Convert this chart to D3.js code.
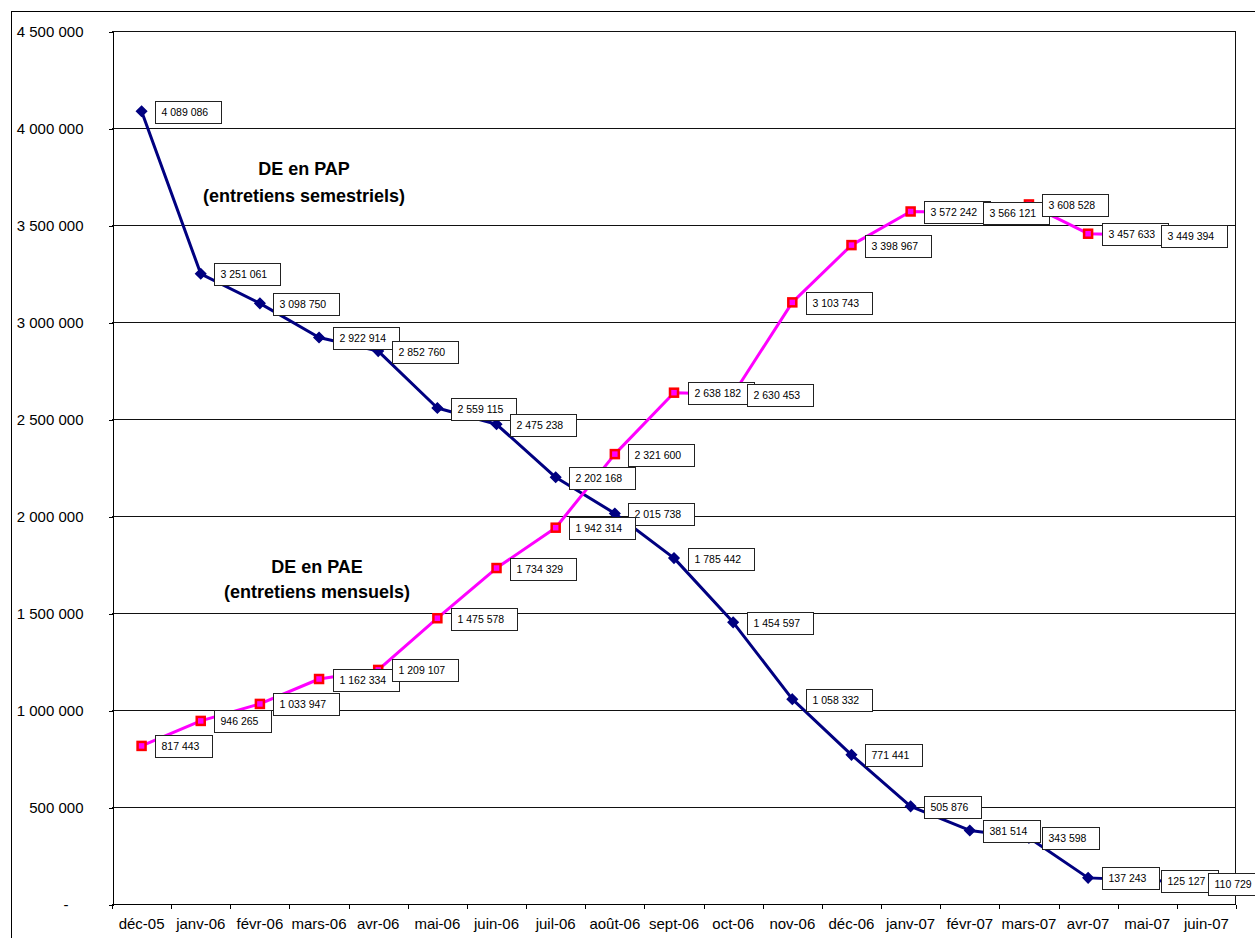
<!DOCTYPE html>
<html>
<head>
<meta charset="utf-8">
<script src="https://cdn.jsdelivr.net/npm/d3@7"></script>
<style>
  html, body { margin: 0; padding: 0; background: #fff; }
  svg { display: block; font-family: "Liberation Sans", Arial, sans-serif; }
</style>
</head>
<body>
<svg id="chart" width="1255" height="938"></svg>
<script>
// ---- data ----
const categories = ["déc-05","janv-06","févr-06","mars-06","avr-06","mai-06","juin-06","juil-06","août-06","sept-06","oct-06","nov-06","déc-06","janv-07","févr-07","mars-07","avr-07","mai-07","juin-07"];
const papValues = [4089086,3251061,3098750,2922914,2852760,2559115,2475238,2202168,2015738,1785442,1454597,1058332,771441,505876,381514,343598,137243,125127,110729];
const paeValues = [817443,946265,1033947,1162334,1209107,1475578,1734329,1942314,2321600,2638182,2630453,3103743,3398967,3572242,3566121,3608528,3457633,3449394,null];
const yTickValues = [0,500000,1000000,1500000,2000000,2500000,3000000,3500000,4000000,4500000];
const papAnnotation = ["DE en PAP","(entretiens semestriels)"];
const paeAnnotation = ["DE en PAE","(entretiens mensuels)"];

// ---- layout ----
const W = 1255, H = 938;
const chartRight = 1265; // chart area extends slightly past the visible window
const plot = {left: 112, right: 1236, top: 31.5, bottom: 904.5};
const svg = d3.select("#chart");
const fr = d3.formatLocale({decimal: ",", thousands: " ", grouping: [3], currency: ["", "€"]});
const fmt = fr.format(",d");

const x = d3.scaleBand().domain(categories).range([plot.left, plot.right]).padding(0);
const xc = c => x(c) + x.bandwidth() / 2;
const y = d3.scaleLinear().domain([0, 4500000]).range([plot.bottom, plot.top]);

// outer chart border
svg.append("rect").attr("x", 11.5).attr("y", 11.5).attr("width", chartRight - 11).attr("height", H + 20)
  .attr("fill", "none").attr("stroke", "#000").attr("stroke-width", 1);

// gridlines
svg.append("g").selectAll("line").data(yTickValues.filter(v => v > 0)).join("line")
  .attr("x1", plot.left).attr("x2", plot.right)
  .attr("y1", d => y(d)).attr("y2", d => y(d))
  .attr("stroke", "#111").attr("stroke-width", 1).attr("shape-rendering", "crispEdges");

// plot border (right side)
svg.append("line").attr("x1", plot.right - 0.5).attr("x2", plot.right - 0.5)
  .attr("y1", plot.top).attr("y2", plot.bottom)
  .attr("stroke", "#111").attr("shape-rendering", "crispEdges");

// y axis
const yAxis = d3.axisLeft(y).tickValues(yTickValues).tickSize(4).tickPadding(25)
  .tickFormat(d => d === 0 ? "-" : fmt(d));
const gy = svg.append("g").attr("transform", `translate(${plot.left + 0.5},0)`).call(yAxis);
gy.select(".domain").attr("stroke", "#000").attr("shape-rendering", "crispEdges");
gy.selectAll(".tick line").attr("stroke", "#000").attr("shape-rendering", "crispEdges");
gy.selectAll(".tick text").attr("font-size", 15).attr("fill", "#000")
  .attr("font-family", "Liberation Sans, Arial, sans-serif")
  .attr("dx", d => d === 0 ? -15 : 0);

// x axis
const gx = svg.append("g");
gx.append("line").attr("x1", plot.left).attr("x2", plot.right)
  .attr("y1", plot.bottom).attr("y2", plot.bottom)
  .attr("stroke", "#000").attr("shape-rendering", "crispEdges");
const boundaries = categories.map(c => x(c)).concat([plot.right]);
gx.selectAll("line.tk").data(boundaries).join("line").attr("class", "tk")
  .attr("x1", d => Math.round(d) + 0.5).attr("x2", d => Math.round(d) + 0.5)
  .attr("y1", plot.bottom).attr("y2", plot.bottom + 4)
  .attr("stroke", "#000").attr("shape-rendering", "crispEdges");
gx.selectAll("text").data(categories).join("text")
  .attr("x", d => xc(d)).attr("y", 929)
  .attr("text-anchor", "middle").attr("font-size", 15).attr("fill", "#000")
  .text(d => d);

// series
const papPts = categories.map((c, i) => ({c, v: papValues[i]})).filter(d => d.v != null);
const paePts = categories.map((c, i) => ({c, v: paeValues[i]})).filter(d => d.v != null);
const line = d3.line().x(d => xc(d.c)).y(d => y(d.v));

svg.append("path").datum(papPts).attr("d", line)
  .attr("fill", "none").attr("stroke", "#000080").attr("stroke-width", 3).attr("stroke-linejoin", "round");
svg.append("g").selectAll("path").data(papPts).join("path")
  .attr("d", d3.symbol(d3.symbolDiamond2, 64)())
  .attr("transform", d => `translate(${xc(d.c)},${y(d.v)})`)
  .attr("fill", "#000080").attr("stroke", "#000080").attr("stroke-width", 1.5);

svg.append("path").datum(paePts).attr("d", line)
  .attr("fill", "none").attr("stroke", "#FF00FF").attr("stroke-width", 3).attr("stroke-linejoin", "round");
svg.append("g").selectAll("rect").data(paePts).join("rect")
  .attr("x", d => xc(d.c) - 4).attr("y", d => y(d.v) - 4)
  .attr("width", 8).attr("height", 8)
  .attr("fill", "#FF00FF").attr("stroke", "#FF0000").attr("stroke-width", 2.5);

// data labels
function drawLabels(pts) {
  const g = svg.append("g");
  pts.forEach(d => {
    const gg = g.append("g");
    const rect = gg.append("rect");
    const t = gg.append("text").attr("font-size", 10.5).attr("fill", "#000").text(fmt(d.v));
    const tw = t.node().getComputedTextLength();
    const bw = Math.round(tw + 19), bh = 22;
    let bx = Math.round(xc(d.c) + 13.5);
    if (bx + bw > chartRight - 1) bx = chartRight - 1 - bw;
    const by = Math.round(y(d.v) + 0.5 - bh / 2);
    rect.attr("x", bx + 0.5).attr("y", by + 0.5).attr("width", bw).attr("height", bh)
      .attr("fill", "#fff").attr("stroke", "#222").attr("stroke-width", 1);
    t.attr("x", bx + 6.5).attr("y", by + 15);
  });
}
drawLabels(papPts);
drawLabels(paePts);

// annotations
function annotate(lines, cx, y0, y1) {
  const g = svg.append("g").attr("font-size", 18).attr("font-weight", "bold").attr("text-anchor", "middle").attr("fill", "#000");
  g.append("text").attr("x", cx).attr("y", y0).text(lines[0]);
  g.append("text").attr("x", cx).attr("y", y1).text(lines[1]);
}
annotate(papAnnotation, 304, 175, 202);
annotate(paeAnnotation, 317, 573, 598);
</script>
</body>
</html>
